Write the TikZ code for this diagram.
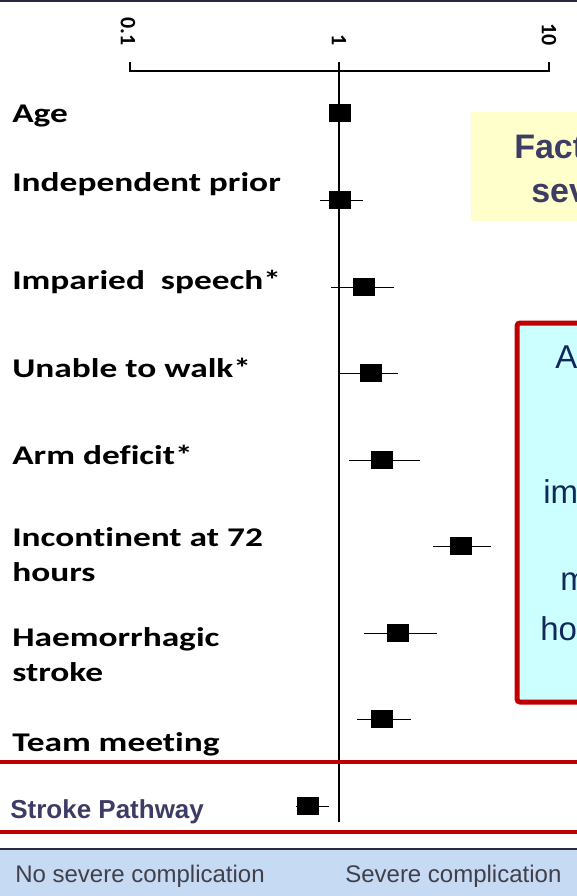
\documentclass[tikz,border=0pt]{standalone}
\usepackage{fontspec}
\setmainfont{Liberation Sans}
\newfontfamily\lblfont[FakeStretch=1.31, Ligatures=NoCommon]{Carlito}
\newfontfamily\axfont{Carlito}
\usetikzlibrary{positioning}

\definecolor{slidered}{HTML}{C00000}
\definecolor{noteyellow}{HTML}{FFFFCC}
\definecolor{notecyan}{HTML}{CCFFFF}
\definecolor{titleblue}{HTML}{3C3C64}
\definecolor{noteblue}{HTML}{12285A}
\definecolor{bandblue}{HTML}{C6DAF3}
\definecolor{bandtext}{HTML}{40404C}
\definecolor{frame}{HTML}{2A2A40}

\begin{document}
\begin{tikzpicture}[x=1pt, y=-1pt, semithick,
  lbl/.style={anchor=base west, inner sep=0pt, font=\lblfont\bfseries\fontsize{27}{35}\selectfont, align=left},
  tick/.style={anchor=east, inner sep=0pt, rotate=-90, font=\axfont\bfseries\fontsize{22}{26}\selectfont},
  ormark/.style={fill=black, minimum width=22pt, minimum height=18pt, inner sep=0pt},
  ci/.style={line width=1pt},
  sep/.style={slidered, line width=4pt},
  note/.style={anchor=base west, inner sep=0pt, noteblue, font=\fontsize{33}{40}\selectfont},
  heading/.style={anchor=base west, inner sep=0pt, titleblue, font=\bfseries\fontsize{34}{40}\selectfont},
  band/.style={anchor=base west, inner sep=0pt, bandtext, font=\fontsize{24}{28}\selectfont}]
	\useasboundingbox (0,0) rectangle (577,896);
	\clip (0,0) rectangle (577,896);
	\fill[frame] (0,0) rectangle (577,2);

	% boxes on the right
	\fill[noteyellow] (471,112) rectangle (600,221);
	\node[heading] (h1) at (514,159) {Fact};
	\node[heading] (h2) at (531,202) {sev};
	\draw[slidered, line width=5pt, fill=notecyan, rounded corners=3pt] (517,323) rectangle (620,702);
	\node[note] (n1) at (555,368) {A};
	\node[note] (n2) at (543,503) {im};
	\node[note] (n3) at (560,590) {m};
	\node[note] (n4) at (540,640) {ho};

	% axis
	\coordinate (a0) at (130,71);
	\coordinate (a1) at (339,71);
	\coordinate (a2) at (549,71);
	\coordinate (a0t) at (130,62);
	\coordinate (a1t) at (339,62);
	\coordinate (a2t) at (549,62);
	\coordinate (a1b) at (339,822);
	\draw[line width=2.5pt] (a0t) -- (a0) -- (a2) -- (a2t);
	\draw[line width=2.5pt] (a1t) -- (a1);
	\draw[line width=1.5pt] (a1) -- (a1b);
	\node[tick] (t0) at (128,46) {0.1};
	\node[tick] (t1) at (339,46) {1};
	\node[tick] (t2) at (549,46) {10};

	% labels
	\node[lbl] (age) at (12,123) {Age};
	\node[lbl] (ind) at (12,192) {Independent prior};
	\node[lbl] (spe) at (12,289) {Imparied\ \ speech*};
	\node[lbl] (wlk) at (12,377) {Unable to walk*};
	\node[lbl] (arm) at (12,464) {Arm deficit*};
	\node[lbl] (inc) at (12,546) {Incontinent at 72};
	\node[lbl] (hrs) at (12,581) {hours};
	\node[lbl] (hae) at (12,646) {Haemorrhagic};
	\node[lbl] (stk) at (12,681) {stroke};
	\node[lbl] (tm) at (12,751) {Team meeting};
	\node[anchor=base west, inner sep=0pt, titleblue, font=\bfseries\fontsize{26}{30}\selectfont] (sp) at (10,818) {Stroke Pathway};

	% odds ratios with intervals
	\foreach \n/\y/\m/\l/\r in {1/113/340/340/340, 2/200/340/320/363, 3/287/364/331/394,
		4/373/371/338/398, 5/460/382/349/420, 6/546/461/433/491,
		7/633/398/364/437, 8/719/382/357/411, 9/806/308/296/329} {
		\coordinate (l\n) at (\l,\y);
		\coordinate (r\n) at (\r,\y);
		\draw[ci] (l\n) -- (r\n);
		\node[ormark] (m\n) at (\m,\y) {};
	}

	% separators and footer
	\draw[sep] (-5,762) -- (600,762);
	\draw[sep] (-5,832) -- (600,832);
	\fill[bandblue] (0,850) rectangle (577,896);
	\draw[frame, line width=2.5pt] (-5,849) -- (600,849);
	\node[band] (no) at (15,882) {No severe complication};
	\node[band] (yes) at (345,882) {Severe complication};
\end{tikzpicture}
\end{document}
